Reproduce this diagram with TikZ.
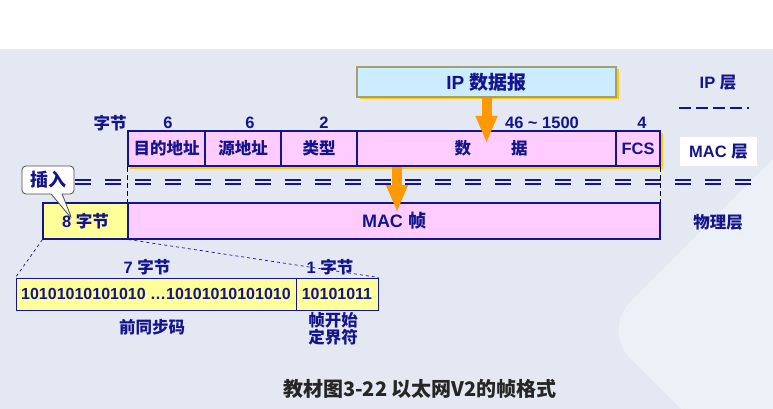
\documentclass[tikz,border=0pt]{standalone}
\usepackage{fontspec}
\setmainfont{Liberation Sans}
\newfontfamily\cjk{Noto Sans CJK SC}
\usetikzlibrary{arrows.meta,shapes.callouts}
\definecolor{navy}{HTML}{14148C}
\definecolor{pinkf}{HTML}{FFCCFF}
\definecolor{yelf}{HTML}{FFFF99}
\definecolor{bluef}{HTML}{CCECFF}
\definecolor{shad}{HTML}{FFCC00}
\definecolor{bgc}{HTML}{E3E8F3}
\definecolor{orng}{HTML}{FF9900}
\definecolor{olive}{HTML}{A0A070}
\newcommand{\fsz}{\bfseries\fontsize{16.5}{18}\selectfont}
\newcommand{\fbig}{\bfseries\fontsize{19}{21}\selectfont}
\tikzset{
  field/.style={draw=navy, line width=1.1pt, fill=pinkf, minimum height=35pt, inner sep=0pt, font=\fsz, text=navy},
  ybox/.style={field, fill=yelf},
  lab/.style={font=\fsz, text=navy, inner sep=1pt},
  bigarrow/.style={orng, line width=10pt, -{Triangle[length=27pt,width=20pt]}},
  dline/.style={navy, line width=1.1pt, dash pattern=on 16pt off 14pt},
  vdash/.style={black, line width=1pt, dash pattern=on 5pt off 3pt},
}
\begin{document}
\begin{tikzpicture}[x=1pt,y=-1pt]
\useasboundingbox (0,0) rectangle (773,409);
\fill[white] (0,0) rectangle (773,49);
\fill[bgc] (0,49) rectangle (773,409);
\begin{scope}
\clip (0,49) rectangle (773,409);
\fill[white, opacity=0.35, rounded corners=40pt, rotate around={45:(800,330)}] (660,190) rectangle (940,470);
\end{scope}

% IP datagram
\fill[shad] (359.5,69.5) rectangle (618.5,99.5);
\node[draw=olive, line width=1.1pt, fill=bluef, minimum width=259pt, minimum height=30pt, inner sep=0pt, font=\fbig, text=navy] (ip) at (486.5,82) {IP {\cjk 数据报}};

% byte counts
\node[lab] (bz) at (110,123) {\cjk 字节};
\node[lab] (n1) at (168,123) {6};
\node[lab] (n2) at (250,123) {6};
\node[lab] (n3) at (324,123) {2};
\node[lab] (n4) at (542,123) {46 \char"007E\ 1500};
\node[lab] (n5) at (642,123) {4};

% MAC frame fields
\fill[shad] (130,133) rectangle (662.5,168.5);
\node[field, minimum width=77pt] (dst) at (166.5,148.5) {\cjk 目的地址};
\node[field, minimum width=76pt] (src) at (243,148.5) {\cjk 源地址};
\node[field, minimum width=76pt] (typ) at (319,148.5) {\cjk 类型};
\node[field, minimum width=259pt] (dat) at (486.5,148.5) {\hspace{9pt}{\cjk 数}\hspace{40pt}{\cjk 据}};
\node[field, minimum width=44pt] (fcs) at (638,148.5) {FCS};

% layer labels
\node[lab] (lip) at (718,83) {IP {\cjk 层}};
\draw[navy, line width=1.2pt, dash pattern=on 12pt off 5pt] (679,108) -- (749,108);
\node[lab, fill=white, minimum width=77pt, minimum height=29pt] (lmac) at (718.5,151.5) {MAC {\cjk 层}};
\node[lab] (lphy) at (718,222) {\cjk 物理层};

% double dashed boundary
\draw[dline] (75,180) -- (753,180);
\draw[dline] (75,184) -- (753,184);

% physical row
\node[ybox, minimum width=85pt, minimum height=36pt] (pre8) at (85.5,221) {8 {\cjk 字节}};
\node[field, minimum width=532pt, minimum height=36pt, font=\bfseries\fontsize{18}{20}\selectfont] (macf) at (394,221) {MAC {\cjk 帧}};

\draw[vdash] (dst.south west) -- (macf.north west);
\draw[vdash] (fcs.south east) -- (macf.north east);

% arrows
\coordinate (a1e) at (486.5,143);
\draw[bigarrow] (ip.south) -- (a1e);
\coordinate (a2s) at (397,167);
\coordinate (a2e) at (397,212);
\draw[bigarrow] (a2s) -- (a2e);

% callout
\node[rectangle callout, draw=black!70, line width=0.8pt, fill=white, rounded corners=4pt, minimum width=52pt, minimum height=28pt, inner sep=0pt, text=navy, font=\cjk\bfseries\fontsize{18}{20}\selectfont, callout absolute pointer={(72,219)}, callout pointer width=11pt] (ins) at (48,180) {插入};

% preamble
\node[lab] (b7) at (147,267) {7 {\cjk 字节}};
\node[lab] (b1) at (330,267) {1 {\cjk 字节}};
\node[ybox, line width=1pt, minimum width=280pt, minimum height=32pt, font=\bfseries\fontsize{16}{18}\selectfont] (pa) at (156,294) {10101010101010 \char"2026 10101010101010};
\node[ybox, line width=1pt, minimum width=82pt, minimum height=32pt, font=\bfseries\fontsize{16}{18}\selectfont] (pb) at (337,294) {10101011};
\draw[navy, dashed, line width=0.7pt] (pre8.south west) -- (pa.north west);
\draw[navy, dashed, line width=0.7pt] (pre8.south east) -- (pb.north east);
\node[lab] (pname) at (152,327) {\cjk 前同步码};
\node[lab, align=center, font=\cjk\bfseries\fontsize{16.5}{17}\selectfont] (sfd) at (333,329) {帧开始\\定界符};

% caption
\node[font=\cjk\bfseries\fontsize{20}{22}\selectfont, text=black!85] (cap) at (420,389) {教材图3-22 以太网V2的帧格式};
\end{tikzpicture}
\end{document}
